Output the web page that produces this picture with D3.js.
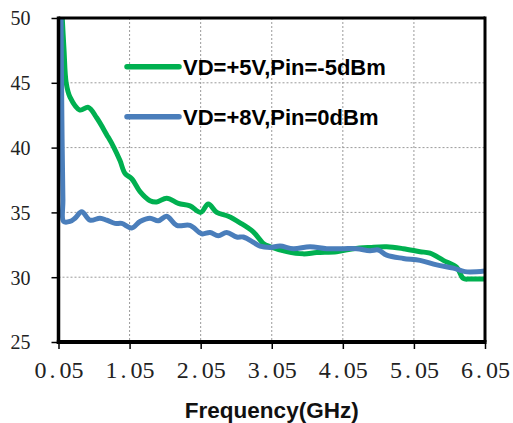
<!DOCTYPE html>
<html>
<head>
<meta charset="utf-8">
<script src="https://cdn.jsdelivr.net/npm/d3@7"></script>
<style>
  html, body { margin: 0; padding: 0; background: #fff; }
  svg { display: block; }
</style>
</head>
<body>
<svg id="chart" width="513" height="423"></svg>
<script>
// Frequency sweep (GHz) and measured values for each bias condition
const freq5V = [0.098, 0.128, 0.158, 0.212, 0.352, 0.469, 0.587, 0.728, 0.821, 0.915, 0.986, 1.080, 1.197, 1.337, 1.432, 1.572, 1.735, 1.900, 2.050, 2.157, 2.276, 2.439, 2.603, 2.790, 2.931, 3.026, 3.260, 3.494, 3.683, 3.964, 4.198, 4.432, 4.667, 4.901, 5.136, 5.276, 5.464, 5.652, 5.745, 5.839, 6.050];
const vals5V = [50.5, 47.5, 45.0, 43.9, 42.9, 43.1, 42.3, 41.0, 40.1, 39.0, 38.0, 37.6, 36.6, 35.9, 35.8, 36.1, 35.7, 35.5, 35.0, 35.65, 35.0, 34.7, 34.2, 33.5, 32.6, 32.35, 31.97, 31.8, 31.9, 31.97, 32.2, 32.3, 32.35, 32.2, 31.97, 31.85, 31.3, 30.76, 29.9, 29.86, 29.86];

const freq8V = [0.085, 0.098, 0.112, 0.122, 0.212, 0.282, 0.376, 0.493, 0.634, 0.728, 0.845, 0.939, 1.080, 1.197, 1.337, 1.454, 1.572, 1.713, 1.900, 2.065, 2.181, 2.298, 2.416, 2.557, 2.650, 2.790, 2.885, 3.026, 3.166, 3.353, 3.588, 3.823, 4.057, 4.245, 4.432, 4.549, 4.667, 4.901, 5.136, 5.371, 5.604, 5.769, 6.050];
const vals8V = [50.5, 42.0, 36.0, 34.3, 34.3, 34.55, 35.05, 34.4, 34.55, 34.4, 34.15, 34.15, 33.8, 34.3, 34.55, 34.35, 34.7, 34.0, 34.0, 33.35, 33.45, 33.2, 33.45, 33.1, 33.1, 32.7, 32.4, 32.3, 32.4, 32.2, 32.35, 32.2, 32.2, 32.2, 32.05, 32.1, 31.7, 31.45, 31.3, 30.95, 30.7, 30.43, 30.48];

const seriesNames = ["VD=+5V,Pin=-5dBm", "VD=+8V,Pin=0dBm"];
const seriesColors = ["#00b050", "#4a7ebb"];

const xTicks = [0.05, 1.05, 2.05, 3.05, 4.05, 5.05, 6.05];
const yTicks = [25, 30, 35, 40, 45, 50];
const xTitle = "Frequency(GHz)";

const svg = d3.select("#chart");
const plotL = 58.5, plotR = 485, plotT = 18, plotB = 342;

const x = d3.scaleLinear().domain([0.05, 6.05]).range([plotL, plotR]);
const y = d3.scaleLinear().domain([25, 50]).range([plotB, plotT]);

// dotted grid
const grid = svg.append("g").attr("stroke", "#9a9a9a").attr("stroke-width", 1)
  .attr("stroke-dasharray", "2,2");
xTicks.slice(1, -1).forEach(t => {
  grid.append("line").attr("x1", x(t)).attr("x2", x(t)).attr("y1", plotT).attr("y2", plotB);
});
yTicks.slice(1, -1).forEach(t => {
  grid.append("line").attr("x1", plotL).attr("x2", plotR).attr("y1", y(t)).attr("y2", y(t));
});

// data lines, clipped to the plot frame
svg.append("clipPath").attr("id", "plotClip").append("rect")
  .attr("x", plotL).attr("y", plotT).attr("width", plotR - plotL).attr("height", plotB - plotT);

const line = d3.line().x(d => x(d[0])).y(d => y(d[1])).curve(d3.curveCatmullRom.alpha(0.5));
const series = [
  d3.zip(freq5V, vals5V),
  d3.zip(freq8V, vals8V)
];
const lines = svg.append("g").attr("clip-path", "url(#plotClip)");
series.forEach((s, i) => {
  lines.append("path").datum(s).attr("d", line)
    .attr("fill", "none").attr("stroke", seriesColors[i])
    .attr("stroke-width", 5).attr("stroke-linejoin", "round").attr("stroke-linecap", "round");
});

// axes
const xAxis = d3.axisBottom(x).tickValues(xTicks).tickSize(7).tickFormat(() => "");
const yAxis = d3.axisLeft(y).tickValues(yTicks).tickSize(7).tickFormat(() => "");
const gx = svg.append("g").attr("transform", `translate(0,${plotB})`).call(xAxis);
const gy = svg.append("g").attr("transform", `translate(${plotL},0)`).call(yAxis);
gx.select(".domain").remove();
gy.select(".domain").remove();
gx.selectAll(".tick line").attr("stroke", "#000").attr("stroke-width", 1.5);
gy.selectAll(".tick line").attr("stroke", "#000").attr("stroke-width", 1.5);

// tick labels (serif, with a widened decimal point)
const fmt = d3.format(".2f");
gx.selectAll(".tick").each(function(d) {
  const parts = fmt(d).split(".");
  const t = d3.select(this).append("text")
    .attr("y", 35.5).attr("text-anchor", "middle")
    .attr("font-family", "Liberation Serif, serif").attr("font-size", 24).attr("fill", "#222");
  t.append("tspan").text(parts[0]);
  t.append("tspan").attr("dx", 3).text(".");
  t.append("tspan").attr("dx", 4).text(parts[1]);
});
gy.selectAll(".tick").append("text")
  .attr("x", -28).attr("dy", "0.34em").attr("text-anchor", "end")
  .attr("font-family", "Liberation Serif, serif").attr("font-size", 20).attr("fill", "#222")
  .text(d => d);

// frame
const frame = svg.append("g").attr("stroke", "#000").attr("fill", "none");
frame.append("line").attr("x1", plotL).attr("x2", plotR).attr("y1", plotT).attr("y2", plotT).attr("stroke-width", 3);
frame.append("line").attr("x1", plotR).attr("x2", plotR).attr("y1", plotT - 1.5).attr("y2", plotB).attr("stroke-width", 3);
frame.append("line").attr("x1", plotL).attr("x2", plotL).attr("y1", plotT - 1.5).attr("y2", plotB + 2).attr("stroke-width", 3.5);
frame.append("line").attr("x1", plotL - 1.7).attr("x2", plotR + 1.5).attr("y1", plotB).attr("y2", plotB).attr("stroke-width", 4);

// axis title
svg.append("text").attr("x", (plotL + plotR) / 2).attr("y", 418)
  .attr("text-anchor", "middle").attr("font-family", "Liberation Sans, Arial, sans-serif")
  .attr("font-weight", "bold").attr("font-size", 22.5).attr("fill", "#111")
  .text(xTitle);

// legend
const legend = svg.append("g");
seriesNames.forEach((name, i) => {
  const ly = 66.7 + i * 50;
  legend.append("line").attr("x1", 127).attr("x2", 179).attr("y1", ly).attr("y2", ly)
    .attr("stroke", seriesColors[i]).attr("stroke-width", 5.5).attr("stroke-linecap", "round");
  legend.append("text").attr("x", 183).attr("y", ly + 8)
    .attr("font-family", "Liberation Sans, Arial, sans-serif").attr("font-weight", "bold")
    .attr("font-size", 22).attr("fill", "#000").text(name);
});
</script>
</body>
</html>
